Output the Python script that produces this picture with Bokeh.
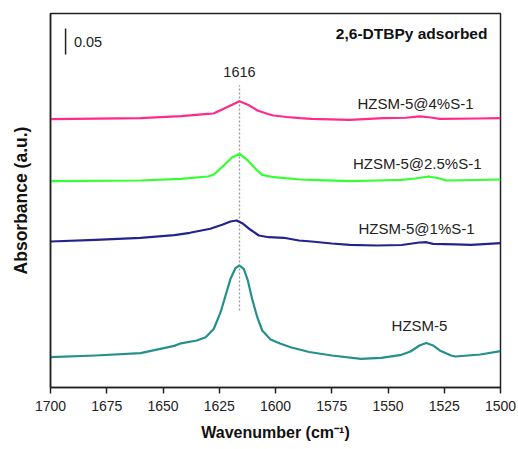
from bokeh.plotting import figure
from bokeh.models import Range1d, FixedTicker, Label
from bokeh.embed import file_html
from bokeh.resources import INLINE

# ---- data (absorbance, a.u., curves stacked with vertical offsets) ----
wn_hzsm5 = [1700, 1680, 1660, 1645, 1642, 1635, 1631, 1627.4, 1624.4, 1622.2, 1620, 1617.8, 1616,
            1614.1, 1612.3, 1610.4, 1608.1, 1605.9, 1602.2, 1598, 1593.3, 1585, 1575, 1562,
            1553, 1544, 1540, 1536, 1533, 1530, 1527, 1522, 1520, 1509, 1500]
ab_hzsm5 = [0.0583, 0.0615, 0.0660, 0.0800, 0.0850, 0.0904, 0.0967, 0.1129, 0.1448, 0.1769,
            0.2090, 0.2294, 0.2346, 0.2283, 0.2058, 0.1706, 0.1352, 0.1096, 0.0923, 0.0845,
            0.0775, 0.0683, 0.0615, 0.0552, 0.0571, 0.0629, 0.0692, 0.0808, 0.0856, 0.0808,
            0.0712, 0.0615, 0.0596, 0.0635, 0.0698]

wn_1pct = [1700, 1680, 1660, 1645, 1638, 1629, 1623.7, 1620, 1617.3, 1614.8, 1611.1, 1607.4,
           1603, 1596.3, 1589.6, 1584, 1575, 1567, 1555, 1544, 1536, 1533, 1530, 1520, 1513, 1500]
ab_1pct = [0.2808, 0.2837, 0.2879, 0.2930, 0.2975, 0.3052, 0.3129, 0.3192, 0.3212, 0.3160,
           0.3033, 0.2923, 0.2890, 0.2879, 0.2827, 0.2808, 0.2769, 0.2744, 0.2731, 0.2740,
           0.2788, 0.2794, 0.2763, 0.2754, 0.2744, 0.2775]

wn_25pct = [1700, 1660, 1642, 1630, 1627.4, 1623, 1619.2, 1615.9, 1612.6, 1608.9, 1605.9,
            1600.8, 1589, 1584, 1567, 1555, 1544, 1538, 1532, 1528, 1524, 1510, 1500]
ab_25pct = [0.3967, 0.3981, 0.4013, 0.4058, 0.4096, 0.4269, 0.4429, 0.4494, 0.4379, 0.4206,
            0.4090, 0.4044, 0.4000, 0.3994, 0.3967, 0.3981, 0.3994, 0.4019, 0.4058, 0.4029,
            0.3981, 0.3990, 0.4000]

wn_4pct = [1700, 1660, 1642, 1630, 1627.6, 1623, 1620, 1616, 1612, 1608, 1604, 1601, 1595,
           1589, 1584, 1567, 1552, 1542, 1536, 1531, 1527, 1510, 1500]
ab_4pct = [0.5160, 0.5179, 0.5217, 0.5263, 0.5269, 0.5360, 0.5423, 0.5506, 0.5433, 0.5327,
           0.5269, 0.5231, 0.5202, 0.5179, 0.5167, 0.5148, 0.5179, 0.5187, 0.5212, 0.5192,
           0.5167, 0.5173, 0.5179]

series_names = ["HZSM-5@4%S-1", "HZSM-5@2.5%S-1", "HZSM-5@1%S-1", "HZSM-5"]
series_colors = ["#ff2a8a", "#33ff33", "#23238c", "#23908a"]
x_ticks = [1700, 1675, 1650, 1625, 1600, 1575, 1550, 1525, 1500]
peak_wn = 1616
scale_bar = 0.05

FONT = "Liberation Sans"

p = figure(width=518, height=449, output_backend="svg", toolbar_location=None,
           x_range=Range1d(1700, 1500), y_range=Range1d(0, 0.7192),
           min_border_left=50, min_border_right=18, min_border_top=13, min_border_bottom=62)
p.background_fill_color = "white"
p.border_fill_color = "white"
p.xgrid.visible = False
p.ygrid.visible = False
p.outline_line_color = "#222222"
p.outline_line_width = 1.5

# x axis
p.xaxis.ticker = FixedTicker(ticks=x_ticks, minor_ticks=[])
p.xaxis.major_tick_out = 6
p.xaxis.major_tick_in = 0
p.xaxis.major_tick_line_width = 1.5
p.xaxis.major_tick_line_color = "#222222"
p.xaxis.axis_line_width = 1.5
p.xaxis.axis_line_color = "#222222"
p.xaxis.major_label_text_font = FONT
p.xaxis.major_label_text_font_size = "14px"
p.xaxis.major_label_text_color = "#222222"
p.xaxis.major_label_standoff = 7
p.xaxis.axis_label = "Wavenumber (cm⁻¹)"
p.xaxis.axis_label_text_font = FONT
p.xaxis.axis_label_text_font_size = "16px"
p.xaxis.axis_label_text_font_style = "bold"
p.xaxis.axis_label_text_color = "#111111"
p.xaxis.axis_label_standoff = 10

# y axis: no ticks
p.yaxis.ticker = FixedTicker(ticks=[], minor_ticks=[])
p.yaxis.major_tick_line_color = None
p.yaxis.minor_tick_line_color = None
p.yaxis.axis_line_width = 1.5
p.yaxis.axis_line_color = "#222222"
p.yaxis.axis_label = "Absorbance (a.u.)"
p.yaxis.axis_label_text_font = FONT
p.yaxis.axis_label_text_font_size = "17.5px"
p.yaxis.axis_label_text_font_style = "bold"
p.yaxis.axis_label_text_color = "#111111"
p.yaxis.axis_label_standoff = 20

# dashed peak marker
p.segment(x0=[peak_wn], y0=[0.148], x1=[peak_wn], y1=[0.581],
          line_color="#999999", line_width=1.3, line_dash="2 2")

# spectra
data = [(wn_4pct, ab_4pct), (wn_25pct, ab_25pct), (wn_1pct, ab_1pct), (wn_hzsm5, ab_hzsm5)]
for (xs, ys), c in zip(data, series_colors):
    p.line(xs, ys, line_color=c, line_width=2.2, line_join="round")

# series labels
label_pos = [(1537.8, 0.5467), (1537.0, 0.4313), (1537.3, 0.3058), (1536.0, 0.1192)]
for name, (lx, ly) in zip(series_names, label_pos):
    p.add_layout(Label(x=lx, y=ly, text=name, text_align="center", text_baseline="middle",
                       text_font=FONT, text_font_size="15px", text_color="#222222"))

# peak label
p.add_layout(Label(x=peak_wn, y=0.6058, text=str(peak_wn), text_align="center",
                   text_baseline="middle", text_font=FONT, text_font_size="14.5px",
                   text_color="#222222"))

# title
p.add_layout(Label(x=1505.8, y=0.681, text="2,6-DTBPy adsorbed", text_align="right",
                   text_baseline="middle", text_font=FONT, text_font_size="15.5px",
                   text_font_style="bold", text_color="#111111"))

# scale bar
p.segment(x0=[1693.3], y0=[0.6404], x1=[1693.3], y1=[0.6404 + scale_bar],
          line_color="#222222", line_width=1.5)
p.add_layout(Label(x=1689.6, y=0.6635, text=f"{scale_bar:.2f}", text_align="left",
                   text_baseline="middle", text_font=FONT, text_font_size="14.5px",
                   text_color="#222222"))

open("out.html", "w").write(file_html(p, INLINE))
